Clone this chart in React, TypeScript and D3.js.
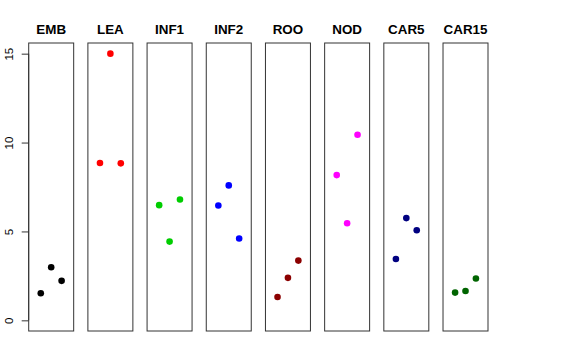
import * as d3 from 'd3';
import { useEffect, useRef } from 'react';

const categories = ['EMB', 'LEA', 'INF1', 'INF2', 'ROO', 'NOD', 'CAR5', 'CAR15'];
const rep1 = [1.52, 8.85, 6.48, 6.46, 1.31, 8.17, 3.45, 1.56];
const rep2 = [2.99, 15.0, 4.43, 7.59, 2.39, 5.46, 5.75, 1.65];
const rep3 = [2.22, 8.83, 6.80, 4.60, 3.36, 10.44, 5.07, 2.35];
const colors = ['#000000', '#FF0000', '#00CD00', '#0000FF', '#8B0000', '#FF00FF', '#000080', '#006400'];
const yTicks = [0, 5, 10, 15];

const W = 576, H = 360;

const App = () => {
    const ref = useRef<SVGSVGElement>(null);

    useEffect(() => {
        const svg = d3.select(ref.current);
        svg.selectAll('*').remove();

        const top = 43, bottom = 331;

        // panels across the page
        const xBand = d3.scaleBand<string>()
            .domain(categories)
            .range([28.7, 488])
            .paddingInner(0.24)
            .paddingOuter(0);

        const yScale = d3.scaleLinear().domain([-0.6, 15.6]).range([bottom, top]);

        // points sit at 1,2,3 inside each panel
        const xIn = d3.scaleLinear().domain([-0.16, 4.16]).range([0, xBand.bandwidth()]);

        // left axis, ticks rotated like R's default
        const axis = svg.append('g')
            .attr('transform', `translate(${xBand('EMB')},0)`)
            .call(d3.axisLeft(yScale).tickValues(yTicks).tickSize(7).tickFormat(d3.format('d')));
        axis.select('.domain').attr('d', `M0,${yScale(0)}V${yScale(15)}`).attr('stroke', '#333');
        axis.selectAll('.tick line').attr('stroke', '#333');
        axis.selectAll('.tick text')
            .attr('x', null)
            .attr('y', null)
            .attr('transform', 'translate(-20,0) rotate(-90)')
            .attr('dy', '0.35em')
            .attr('text-anchor', 'middle')
            .attr('font-family', 'Liberation Sans, Arial, sans-serif')
            .attr('font-size', 11.5)
            .attr('fill', '#000');

        const rows = categories.map((c, i) => ({
            cat: c,
            color: colors[i],
            vals: [rep1[i], rep2[i], rep3[i]],
        }));

        const panel = svg.selectAll('g.panel')
            .data(rows)
            .enter().append('g')
            .attr('class', 'panel')
            .attr('transform', d => `translate(${xBand(d.cat)},0)`);

        panel.append('rect')
            .attr('x', 0)
            .attr('y', top)
            .attr('width', xBand.bandwidth())
            .attr('height', bottom - top)
            .attr('fill', 'none')
            .attr('stroke', '#333')
            .attr('stroke-width', 1);

        panel.append('text')
            .attr('x', xBand.bandwidth() / 2)
            .attr('y', 34)
            .attr('text-anchor', 'middle')
            .attr('font-family', 'Liberation Sans, Arial, sans-serif')
            .attr('font-weight', 'bold')
            .attr('font-size', 13.4)
            .text(d => d.cat);

        panel.selectAll('circle')
            .data(d => d.vals.map((v, j) => ({ v, j, color: d.color })))
            .enter().append('circle')
            .attr('cx', d => xIn(d.j + 1))
            .attr('cy', d => yScale(d.v))
            .attr('r', 3.3)
            .attr('fill', d => d.color);
    }, []);

    return (
        <svg ref={ref} width={W} height={H}
            style={{ position: 'absolute', left: 0, top: 0, background: 'white' }} />
    );
};

export default App;
